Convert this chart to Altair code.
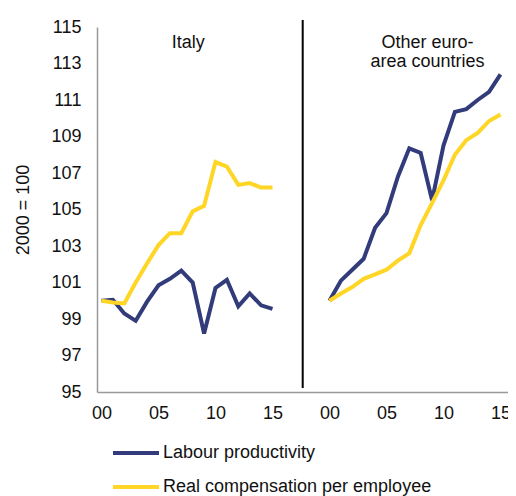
import altair as alt
import pandas as pd

years = list(range(0, 16))
series_names = ["Labour productivity", "Real compensation per employee"]
panels = ["Italy", "Other euro-area countries"]

italy_productivity = [100.0, 100.05, 99.3, 98.9, 99.95, 100.85, 101.2, 101.65, 101.0, 98.2,
                      100.7, 101.15, 99.7, 100.4, 99.75, 99.55]
italy_compensation = [100.0, 99.9, 99.85, 101.0, 102.05, 103.05, 103.7, 103.7, 104.9, 105.2,
                      107.6, 107.35, 106.35, 106.45, 106.2, 106.2]
other_productivity = [100.0, 101.1, 101.7, 102.3, 104.0, 104.8, 106.8, 108.35, 108.1, 105.5,
                      108.5, 110.35, 110.5, 111.0, 111.45, 112.4]
other_compensation = [100.0, 100.4, 100.75, 101.2, 101.45, 101.7, 102.2, 102.6, 104.15, 105.35,
                      106.6, 108.0, 108.8, 109.2, 109.85, 110.2]

panel_offset = {"Italy": 0, "Other euro-area countries": 20}

rows = []
for panel, prod, comp in [("Italy", italy_productivity, italy_compensation),
                          ("Other euro-area countries", other_productivity, other_compensation)]:
    for y, p, c in zip(years, prod, comp):
        rows.append({"panel": panel, "series": series_names[0], "x": y + panel_offset[panel], "value": p})
        rows.append({"panel": panel, "series": series_names[1], "x": y + panel_offset[panel], "value": c})
df = pd.DataFrame(rows)

FONT = "Liberation Sans"
FS = 18
NAVY = "#333c7a"
YELLOW = "#ffd526"

xscale = alt.Scale(domain=[-0.395, 35.66], nice=False, zero=False)
yscale = alt.Scale(domain=[95, 115], nice=False, zero=False)

lines = alt.Chart(df).mark_line(strokeWidth=4, strokeJoin="miter").encode(
    x=alt.X("x:Q", scale=xscale,
            axis=alt.Axis(values=[0, 5, 10, 15, 20, 25, 30, 35],
                          labelExpr="(datum.value % 20) < 10 ? '0' + (datum.value % 20) : '' + (datum.value % 20)",
                          title=None, grid=False, ticks=False, domainColor="#999999", domainWidth=1.5,
                          labelPadding=12, labelFontSize=FS, labelFont=FONT, labelColor="#111111",
                          labelBound=False, labelFlush=False, labelOverlap=False)),
    y=alt.Y("value:Q", scale=yscale,
            axis=alt.Axis(values=list(range(95, 116, 2)), title="2000 = 100", grid=False, ticks=False,
                          domainColor="#999999", domainWidth=1.5, labelPadding=16, labelFontSize=FS,
                          labelFont=FONT, labelColor="#111111", titleFont=FONT, titleFontSize=FS,
                          titleFontWeight="normal", titleColor="#111111", titlePadding=18)),
    color=alt.Color("series:N", scale=alt.Scale(domain=series_names, range=[NAVY, YELLOW]),
                    legend=alt.Legend(title=None, orient="none", legendX=14, legendY=401,
                                      direction="vertical", symbolType="stroke", symbolStrokeWidth=4,
                                      symbolSize=2116, labelFontSize=FS, labelFont=FONT, labelLimit=0,
                                      labelColor="#111111", rowPadding=-11, labelOffset=2)),
    detail="panel:N",
)

divider = alt.Chart(pd.DataFrame({"x": [17.65]})).mark_rule(color="#000000", strokeWidth=2).encode(
    x=alt.X("x:Q", scale=xscale), y=alt.value(-7), y2=alt.value(361)
)

titles_df = pd.DataFrame({"x": [7.6, 28.6], "label": ["Italy", "Other euro-\narea countries"]})
titles = alt.Chart(titles_df).mark_text(font=FONT, fontSize=FS, color="#111111", baseline="middle",
                                        align="center", lineBreak="\n", lineHeight=19).encode(
    x=alt.X("x:Q", scale=xscale), y=alt.value(16), text="label:N"
)

chart = alt.layer(lines, divider, titles).properties(
    width=411, height=365,
    autosize=alt.AutoSizeParams(type="none"),
    padding={"left": 89, "top": 19, "right": 0, "bottom": 104},
).configure_view(stroke=None)

chart.save("out.html", embed_options={"renderer": "svg", "actions": False})
